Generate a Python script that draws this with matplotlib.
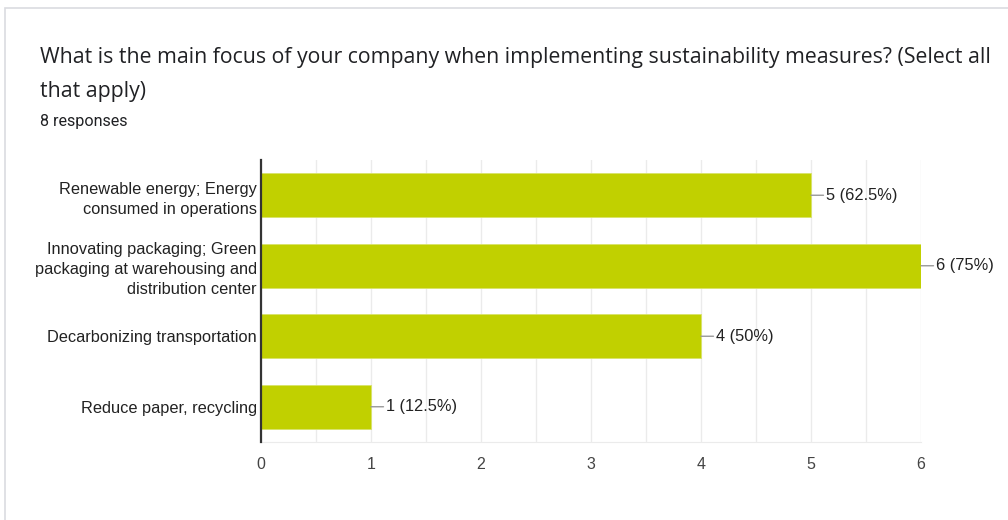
import matplotlib.pyplot as plt
from matplotlib.patches import Rectangle

title_lines = ["What is the main focus of your company when implementing sustainability measures? (Select all",
               "that apply)"]
subtitle = "8 responses"
categories = [
    "Renewable energy; Energy\nconsumed in operations",
    "Innovating packaging; Green\npackaging at warehousing and\ndistribution center",
    "Decarbonizing transportation",
    "Reduce paper, recycling",
]
counts = [5, 6, 4, 1]
labels = ["5 (62.5%)", "6 (75%)", "4 (50%)", "1 (12.5%)"]
xticks = [0, 1, 2, 3, 4, 5, 6]

bar_color = "#c1d000"

fig = plt.figure(figsize=(10.08, 5.2), dpi=100)
fig.patch.set_facecolor("white")

# card outline (runs off the right and bottom edge)
fig.patches.append(Rectangle((5 / 1008, -0.1), 1.2, (520 - 8) / 520 + 0.1,
                             transform=fig.transFigure, fill=False,
                             edgecolor="#dadce0", linewidth=1.2))

for i, line in enumerate(title_lines):
    fig.text(40 / 1008, 1 - (58 + 33 * i) / 520, line, fontsize=15.3,
             family="Open Sans", color="#202124", va="center")
fig.text(40 / 1008, 1 - 121 / 520, subtitle, fontsize=11.6, family="Roboto",
         color="#202124", va="center")

ax = fig.add_axes([261 / 1008, 78 / 520, 660 / 1008, 282 / 520])
y = list(range(len(categories)))
ax.barh(y, counts, height=0.62, color=bar_color, edgecolor="#d9e36a",
        linewidth=0.6, zorder=3)
ax.set_ylim(len(categories) - 0.5, -0.5)
ax.set_xlim(0, 6)
ax.set_yticks(y)
ax.set_yticklabels(categories, fontsize=11.8, family="Liberation Sans",
                   color="#222222", linespacing=1.42)
ax.set_xticks(xticks)
ax.set_xticklabels([str(t) for t in xticks], fontsize=11.5,
                   family="Liberation Sans", color="#444444")
ax.set_xticks([t + 0.5 for t in xticks[:-1]], minor=True)
ax.tick_params(axis="both", which="both", length=0)
ax.tick_params(axis="y", pad=3)
ax.tick_params(axis="x", pad=11)
ax.grid(axis="x", which="both", color="#ebebeb", linewidth=1, zorder=0)

for s in ["top", "right"]:
    ax.spines[s].set_visible(False)
ax.spines["bottom"].set_color("#ebebeb")
ax.spines["left"].set_color("#333333")
ax.spines["left"].set_linewidth(1.6)
ax.spines["left"].set_zorder(4)

for yi, c, lab in zip(y, counts, labels):
    ax.annotate(lab, xy=(c, yi), xytext=(11, 0), textcoords="offset points",
                va="center", ha="left", fontsize=11.8,
                family="Liberation Sans", color="#222222",
                arrowprops=dict(arrowstyle="-", color="#999999", lw=1,
                                shrinkA=0, shrinkB=0),
                annotation_clip=False)

fig.savefig("out.png", dpi=100)
